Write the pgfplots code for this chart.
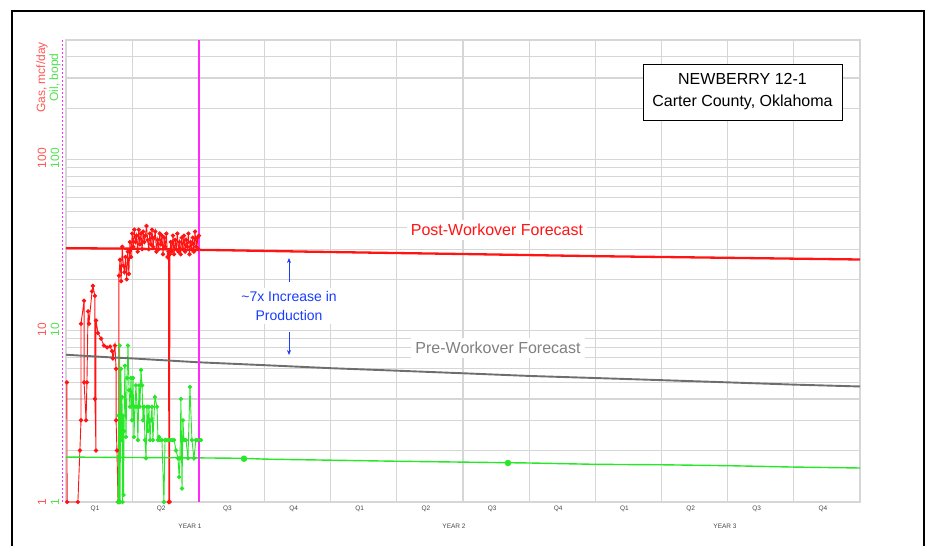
\documentclass[border=0pt]{standalone}
\usepackage{pgfplots}
\pgfplotsset{compat=1.18}
\usepackage{fontspec}
\setmainfont{Liberation Sans}
\usetikzlibrary{arrows.meta}
\definecolor{gasred}{RGB}{255,20,20}
\definecolor{oilgreen}{RGB}{40,230,40}
\definecolor{labred}{RGB}{255,85,85}
\definecolor{labgreen}{RGB}{80,225,80}
\definecolor{fcgray}{RGB}{110,110,110}
\definecolor{txtgray}{RGB}{128,128,128}
\definecolor{annblue}{RGB}{25,60,255}
\definecolor{gridc}{RGB}{214,214,214}
\definecolor{mag}{RGB}{255,40,255}
\definecolor{qgray}{RGB}{70,70,70}
\begin{document}
\begin{tikzpicture}
\path[use as bounding box] (0,0) rectangle (930pt,546pt);
\begin{axis}[
  at={(66pt,44pt)}, anchor=south west,
  scale only axis, width=794pt, height=462pt,
  xmin=0, xmax=36, ymode=log, ymin=1, ymax=500,
  axis line style={draw=gridc, line width=1.2pt},
  xtick={1.5,4.5,7.5,10.5,13.5,16.5,19.5,22.5,25.5,28.5,31.5,34.5},
  xticklabels={Q1,Q2,Q3,Q4,Q1,Q2,Q3,Q4,Q1,Q2,Q3,Q4},
  minor xtick={3,6,9,12,15,18,21,24,27,30,33},
  xminorgrids=true, xmajorgrids=false,
  ytick={1,10,100},
  minor ytick={2,3,4,5,6,7,8,9,20,30,40,50,60,70,80,90,200,300,400},
  ymajorgrids=true, yminorgrids=true,
  grid style={draw=gridc, line width=1.2pt},
  minor grid style={draw=gridc, line width=1.2pt},
  major tick length=0pt, minor tick length=0pt,
  yticklabels={},
  xticklabel style={font=\fontsize{6.5}{7}\selectfont, text=qgray, xshift=-4pt},
  clip=false,
]
% post-workover forecast
\addplot[gasred, line width=2.3pt] coordinates {
(0,30.4) (3,30.2) (6,29.7) (7,29.6) (9,29.3) (11,29.0) (14,28.6) (18,28.1)
(21,27.7) (24,27.3) (27,27.0) (30,26.7) (33,26.4) (36,26.1)};
% gas history
\addplot[gasred, line width=0.9pt, mark=*, mark size=1.7pt] coordinates {
(0.04,5.0) (0.05,1.0) (0.54,1.0) (0.63,2.0) (0.68,3.0) (0.68,11.0) (0.82,15.0) (0.82,5.0)
(0.91,3.0) (0.95,5.0) (1.00,13.0) (1.04,11.0) (1.18,17.0) (1.22,18.3) (1.31,16.0) (1.31,4.0)
(1.36,2.0) (1.36,11.5) (1.45,9.7) (1.59,9.0) (1.72,8.2) (1.86,8.0) (2.00,8.1) (2.09,7.6)
(2.13,6.9) (2.22,8.2) (2.27,6.0) (2.27,3.0) (2.31,2.0) (2.36,1.0) (2.40,1.0) (2.40,21.0)
(2.45,26) (2.50,19.5) (2.55,31) (2.60,24) (2.65,22) (2.70,27) (2.75,20) (2.80,29)
(2.85,21.5) (2.90,33) (2.95,27) (3.00,37) (3.05,31) (3.10,39) (3.15,33) (3.20,36)
(3.25,29) (3.30,39) (3.35,32) (3.40,37) (3.45,30) (3.50,38) (3.55,33) (3.60,36)
(3.65,41) (3.70,34) (3.75,30) (3.80,37) (3.85,32) (3.90,39) (3.95,31) (4.00,35)
(4.05,38) (4.10,29) (4.15,34) (4.20,30) (4.25,37) (4.30,32) (4.35,36) (4.40,28)
(4.45,35) (4.50,31) (4.55,37) (4.60,27) (4.65,29) (4.66,1) (4.70,1) (4.71,28)
(4.75,33) (4.80,29) (4.85,36) (4.90,28) (4.95,34) (5.00,30) (5.05,37) (5.10,29)
(5.15,33) (5.20,28) (5.25,35) (5.30,30) (5.35,36) (5.40,29) (5.45,34) (5.50,31)
(5.55,37) (5.60,28) (5.65,33) (5.70,30) (5.75,35) (5.80,29) (5.85,38) (5.90,31)
(5.95,35) (6.00,30) (6.03,36)};
% oil history
\addplot[oilgreen, line width=0.9pt, mark=*, mark size=1.7pt] coordinates {
(2.36,1.0) (2.38,3.2) (2.40,1.0) (2.43,8.2) (2.45,1.0) (2.49,6.0) (2.52,2.3) (2.54,4.1)
(2.56,1.0) (2.58,3.2) (2.61,1.1) (2.63,2.6) (2.67,6.25) (2.72,2.4) (2.77,5.3) (2.81,8.2)
(2.86,4.5) (2.90,3.6) (2.95,5.3) (2.99,3.0) (3.04,5.3) (3.08,2.4) (3.13,3.6) (3.17,4.8)
(3.22,3.6) (3.26,2.3) (3.31,4.8) (3.35,3.6) (3.40,5.9) (3.45,4.8) (3.49,3.0) (3.54,3.6)
(3.58,2.3) (3.63,1.8) (3.67,3.6) (3.72,2.6) (3.76,3.6) (3.81,2.3) (3.85,3.0) (3.90,3.6)
(3.94,2.3) (4.03,4.1) (4.13,3.6) (4.17,2.3) (4.22,2.4) (4.26,2.3) (4.35,2.3) (4.44,1.0)
(4.49,2.3) (4.53,2.3) (4.62,2.3) (4.71,2.3) (4.81,2.3) (4.90,2.3) (4.99,2.0) (5.08,1.8)
(5.13,1.4) (5.17,1.8) (5.21,4.0) (5.26,1.2) (5.30,3.0) (5.35,2.3) (5.44,2.3) (5.53,1.8)
(5.62,4.7) (5.71,2.3) (5.80,1.8) (5.89,2.3) (5.98,2.3) (6.12,2.3)};
% pre-workover forecast
\addplot[fcgray, line width=1.9pt] coordinates {
(0,7.25) (2,7.0) (3,6.9) (6,6.55) (9,6.3) (12,6.05) (15,5.85) (18,5.65)
(21,5.45) (24,5.3) (27,5.15) (30,5.0) (33,4.85) (36,4.73)};
% oil forecast
\addplot[oilgreen, line width=1.4pt] coordinates {
(0,1.83) (6,1.81) (8,1.80) (9,1.78) (12,1.755) (15,1.73) (18,1.71) (21,1.69)
(24,1.66) (27,1.65) (30,1.63) (33,1.60) (36,1.58)};
\addplot[oilgreen, only marks, mark=*, mark size=3pt] coordinates {(8.07,1.79) (20.04,1.69)};
% magenta markers
\addplot[mag, line width=1.3pt] coordinates {(6.03,1) (6.03,500)};
\addplot[mag, line width=1pt, dash pattern=on 2pt off 2pt] coordinates {(-0.14,1) (-0.14,500)};
\end{axis}
% outer frame
\draw[black, line width=2pt] (11.5pt,0pt) -- (11.5pt,534.5pt) -- (923.5pt,534.5pt) -- (923.5pt,0pt);
% y labels
\begin{scope}[font=\fontsize{12}{12}\selectfont]
\node[rotate=90, text=labred] at (42pt,468.5pt) {Gas, mcf/day};
\node[rotate=90, text=labgreen] at (55pt,468.5pt) {Oil, bopd};
\node[rotate=90, text=labred] at (42pt,388pt) {100};
\node[rotate=90, text=labgreen] at (55pt,388pt) {100};
\node[rotate=90, text=labred] at (42pt,216pt) {10};
\node[rotate=90, text=labgreen] at (55pt,216pt) {10};
\node[rotate=90, text=labred] at (42pt,44pt) {1};
\node[rotate=90, text=labgreen] at (55pt,44pt) {1};
\end{scope}
% year labels
\begin{scope}[font=\fontsize{6.5}{7}\selectfont, text=qgray]
\node at (190pt,20pt) {YEAR 1};
\node at (454pt,20pt) {YEAR 2};
\node at (725pt,20pt) {YEAR 3};
\end{scope}
% annotations
\node[fill=white, text=gasred, inner sep=4pt, font=\fontsize{16}{19}\selectfont] at (497pt,316pt) {Post-Workover Forecast};
\node[fill=white, text=txtgray, inner sep=4pt, font=\fontsize{16}{19}\selectfont] at (498pt,198pt) {Pre-Workover Forecast};
\node[fill=white, text=annblue, align=center, inner sep=3pt, font=\fontsize{14}{20}\selectfont] at (289pt,240pt) {\textasciitilde7x Increase in\\Production};
\draw[annblue, line width=0.8pt, -{Stealth[length=5pt,width=4pt]}] (289pt,264pt) -- (289pt,288pt);
\draw[annblue, line width=0.8pt, -{Stealth[length=5pt,width=4pt]}] (289pt,214pt) -- (289pt,191pt);
% title box
\node[draw=black, line width=0.8pt, fill=white, align=center, minimum width=199pt, minimum height=56pt, font=\fontsize{16}{22}\selectfont] at (742.5pt,454pt) {NEWBERRY 12-1\\Carter County, Oklahoma};
\end{tikzpicture}
\end{document}
